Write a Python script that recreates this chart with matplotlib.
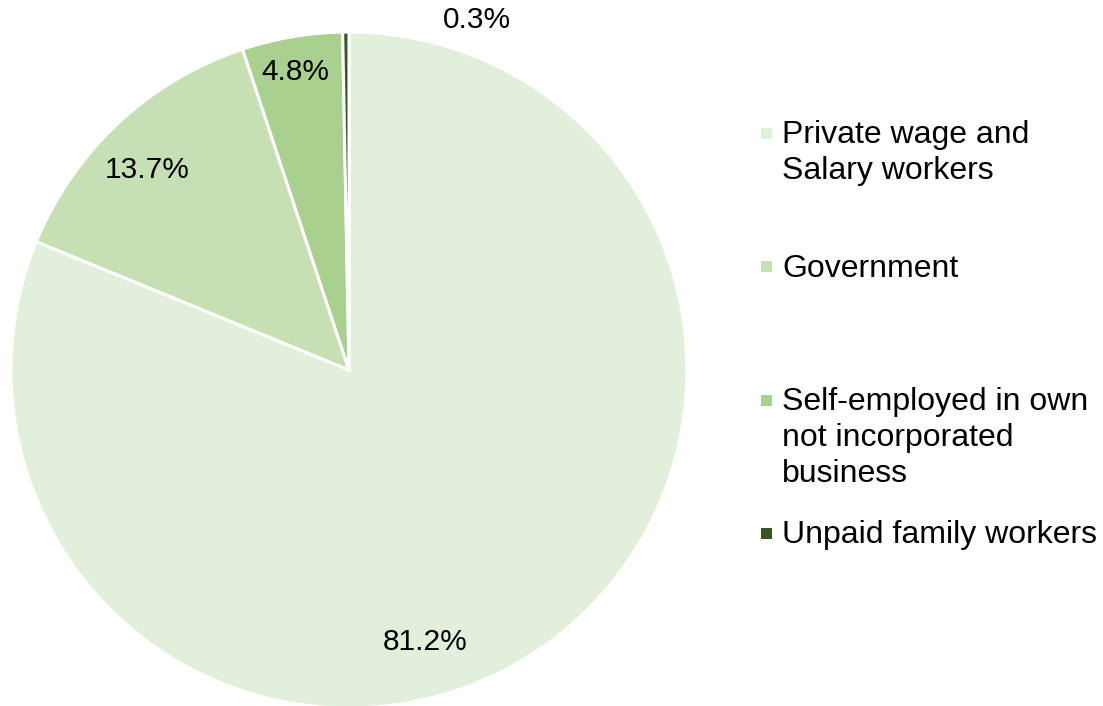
import matplotlib.pyplot as plt
from matplotlib.patches import Rectangle

plt.rcParams['font.family'] = ['Liberation Sans', 'DejaVu Sans']

# class of worker shares (%)
categories = ['Private wage and\nSalary workers', 'Government',
              'Self-employed in own\nnot incorporated\nbusiness', 'Unpaid family workers']
shares = [81.2, 13.7, 4.8, 0.3]
colors = ['#e2efda', '#c6e0b4', '#a9d08e', '#375623']

# label anchor points, in units of the pie radius
label_xy = [(0.225, -0.805), (-0.598, 0.592), (-0.160, 0.882), (0.379, 1.036)]
# legend rows: baseline of first line, figure pixels from top
legend_y = [143, 277, 410, 543]
line_step = 36

W, H = 1103, 706
fig = plt.figure(figsize=(W / 100, H / 100), dpi=100)

cx, cy, r = 349, 370, 338
ax = fig.add_axes([(cx - r) / W, (H - cy - r) / H, 2 * r / W, 2 * r / H])
ax.pie(shares, colors=colors, startangle=90, counterclock=False, radius=1,
       wedgeprops=dict(edgecolor='white', linewidth=2.2))
ax.set_xlim(-1, 1)
ax.set_ylim(-1, 1)
ax.set_aspect('equal')
ax.axis('off')

for val, (x, y) in zip(shares, label_xy):
    ax.text(x, y, f'{val:.1f}%', ha='center', va='center', fontsize=21.5, color='black',
            clip_on=False)

# legend drawn by hand so row spacing can follow the layout
sq = 11
for lab, col, y in zip(categories, colors, legend_y):
    fig.patches.append(Rectangle(((766 - sq / 2) / W, (H - y + 10 - sq / 2) / H), sq / W, sq / H,
                                 transform=fig.transFigure, facecolor=col, edgecolor='none'))
    for i, line in enumerate(lab.split('\n')):
        fig.text(782 / W, (H - y - i * line_step) / H, line, ha='left', va='baseline',
                 fontsize=23, color='black')

fig.savefig('out.png', dpi=100)
